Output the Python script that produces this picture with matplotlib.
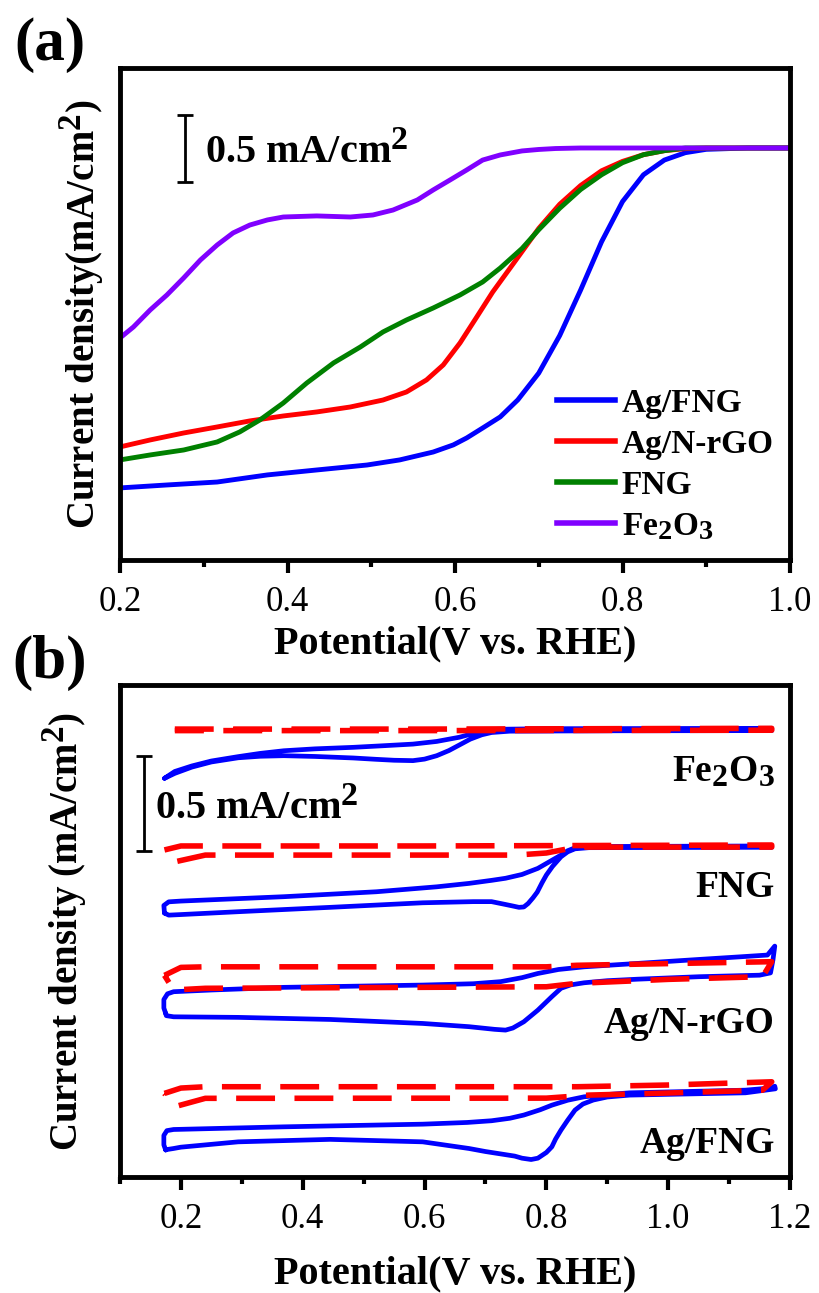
import numpy as np
import matplotlib
matplotlib.use("Agg")
import matplotlib.pyplot as plt
try:
    import matplotlib._mathtext as _mt
    _mt.SHRINK_FACTOR = 0.85
except Exception:
    pass

plt.rcParams['font.family'] = ['Liberation Serif', 'DejaVu Serif']
plt.rcParams['mathtext.fontset'] = 'custom'
plt.rcParams['mathtext.rm'] = 'Liberation Serif:bold'
plt.rcParams['mathtext.bf'] = 'Liberation Serif:bold'
plt.rcParams['mathtext.it'] = 'Liberation Serif:italic:bold'

# ---------------- Panel (a): LSV curves (mA/cm^2, relative) ----------------
lsv_labels = ['Ag/FNG', 'Ag/N-rGO', 'FNG', 'Fe$_2$O$_3$']
lsv_colors = ['#0000FF', '#FF0000', '#008000', '#8000FF']

agfng_x = [0.200, 0.256, 0.316, 0.376, 0.435, 0.495, 0.534, 0.574, 0.598, 0.614, 0.633, 0.654,
           0.675, 0.70, 0.725, 0.75, 0.775, 0.80, 0.825, 0.85, 0.875, 0.90, 0.95, 1.00]
agfng_y = [-2.537, -2.515, -2.493, -2.440, -2.403, -2.366, -2.328, -2.269, -2.216, -2.164, -2.090, -2.007,
           -1.88, -1.68, -1.40, -1.06, -0.70, -0.40, -0.20, -0.09, -0.035, -0.01, 0.0, 0.0]

agnrgo_x = [0.200, 0.236, 0.276, 0.316, 0.355, 0.395, 0.435, 0.475, 0.514, 0.542, 0.566, 0.586,
            0.606, 0.626, 0.645, 0.67, 0.70, 0.725, 0.75, 0.775, 0.80, 0.825, 0.85, 0.875, 0.90, 1.00]
agnrgo_y = [-2.231, -2.179, -2.127, -2.082, -2.037, -2.000, -1.970, -1.933, -1.881, -1.821, -1.731, -1.619,
            -1.455, -1.261, -1.075, -0.86, -0.60, -0.42, -0.28, -0.17, -0.10, -0.05, -0.02, -0.005, 0.0, 0.0]

fng_x = [0.200, 0.236, 0.276, 0.316, 0.343, 0.367, 0.395, 0.423, 0.455, 0.487, 0.514, 0.542,
         0.574, 0.606, 0.633, 0.654, 0.68, 0.70, 0.725, 0.75, 0.775, 0.80, 0.825, 0.85, 0.875, 1.00]
fng_y = [-2.328, -2.291, -2.254, -2.194, -2.119, -2.030, -1.903, -1.754, -1.604, -1.485, -1.373, -1.284,
         -1.194, -1.097, -1.000, -0.896, -0.75, -0.61, -0.45, -0.31, -0.20, -0.11, -0.05, -0.02, 0.0, 0.0]

fe2o3_x = [0.200, 0.216, 0.236, 0.256, 0.276, 0.296, 0.316, 0.335, 0.355, 0.376, 0.395, 0.435,
           0.475, 0.502, 0.526, 0.555, 0.574, 0.594, 0.614, 0.633, 0.654, 0.68, 0.70, 0.72, 0.75, 1.00]
fe2o3_y = [-1.418, -1.336, -1.209, -1.097, -0.970, -0.836, -0.724, -0.634, -0.575, -0.537, -0.515, -0.507,
           -0.515, -0.500, -0.463, -0.388, -0.313, -0.239, -0.164, -0.090, -0.052, -0.022, -0.011, -0.004, 0.0, 0.0]

# ---------------- Panel (b): CV curves, forward + backward sweeps ----------------
# Fe2O3
fe_o2_fx = [0.173, 0.19, 0.218, 0.25, 0.294, 0.33, 0.369, 0.42, 0.483, 0.53, 0.581, 0.62, 0.657,
            0.68, 0.70, 0.72, 0.80, 1.17]
fe_o2_fy = [-0.491, -0.455, -0.426, -0.400, -0.377, -0.360, -0.346, -0.336, -0.328, -0.320, -0.311,
            -0.297, -0.275, -0.255, -0.240, -0.233, -0.230, -0.228]
fe_o2_bx = [1.17, 0.90, 0.74, 0.71, 0.694, 0.675, 0.657, 0.64, 0.62, 0.60, 0.581, 0.55, 0.52, 0.483,
            0.42, 0.369, 0.33, 0.294, 0.25, 0.218, 0.19, 0.173]
fe_o2_by = [-0.240, -0.241, -0.243, -0.250, -0.262, -0.285, -0.316, -0.345, -0.372, -0.390, -0.398,
            -0.396, -0.391, -0.384, -0.376, -0.372, -0.375, -0.383, -0.405, -0.432, -0.465, -0.491]
fe_n2_fx = [0.19, 0.60, 1.17]
fe_n2_fy = [-0.232, -0.232, -0.228]
fe_n2_bx = [1.17, 0.60, 0.19]
fe_n2_by = [-0.238, -0.240, -0.240]

# FNG
fng_o2_fx = [0.173, 0.172, 0.18, 0.20, 0.369, 0.521, 0.62, 0.673, 0.71, 0.733, 0.76, 0.786, 0.805,
             0.824, 0.835, 0.847, 0.87, 1.17]
fng_o2_fy = [-1.200, -1.160, -1.141, -1.137, -1.114, -1.088, -1.062, -1.044, -1.028, -1.017, -0.997,
             -0.965, -0.930, -0.895, -0.872, -0.857, -0.850, -0.847]
fng_o2_bx = [1.17, 0.87, 0.847, 0.835, 0.824, 0.81, 0.80, 0.793, 0.785, 0.778, 0.77, 0.763, 0.755,
             0.745, 0.733, 0.71, 0.68, 0.597, 0.445, 0.294, 0.20, 0.18, 0.173]
fng_o2_by = [-0.854, -0.856, -0.862, -0.878, -0.904, -0.955, -1.000, -1.040, -1.090, -1.120, -1.150,
             -1.168, -1.170, -1.163, -1.155, -1.140, -1.140, -1.146, -1.170, -1.193, -1.208, -1.211, -1.200]
fng_n2_fx = [0.173, 0.20, 0.60, 1.17]
fng_n2_fy = [-0.868, -0.847, -0.847, -0.842]
fng_n2_bx = [1.17, 0.85, 0.80, 0.75, 0.24, 0.188, 0.173]
fng_n2_by = [-0.853, -0.853, -0.884, -0.895, -0.895, -0.932, -0.868]

# Ag/N-rGO
agn_o2_fx = [0.175, 0.172, 0.172, 0.178, 0.188, 0.25, 0.369, 0.597, 0.68, 0.725, 0.76, 0.786, 0.82,
             0.862, 0.95, 1.051, 1.12, 1.163, 1.175]
agn_o2_fy = [-1.728, -1.700, -1.655, -1.625, -1.614, -1.605, -1.591, -1.579, -1.572, -1.561, -1.540,
             -1.518, -1.497, -1.483, -1.465, -1.444, -1.430, -1.421, -1.374]
agn_o2_bx = [1.175, 1.172, 1.168, 1.15, 1.051, 0.95, 0.90, 0.862, 0.84, 0.824, 0.809, 0.786, 0.763,
             0.745, 0.733, 0.715, 0.673, 0.597, 0.445, 0.294, 0.188, 0.176, 0.175]
agn_o2_by = [-1.374, -1.447, -1.515, -1.527, -1.535, -1.548, -1.556, -1.567, -1.578, -1.596, -1.640,
             -1.711, -1.772, -1.805, -1.816, -1.812, -1.798, -1.781, -1.760, -1.749, -1.746, -1.740, -1.728]
agn_n2_fx = [0.173, 0.20, 0.24, 0.80, 0.85, 1.17]
agn_n2_fy = [-1.528, -1.486, -1.483, -1.483, -1.475, -1.456]
agn_n2_bx = [1.17, 1.155, 1.00, 0.85, 0.80, 0.24, 0.188, 0.173]
agn_n2_by = [-1.456, -1.535, -1.549, -1.570, -1.588, -1.596, -1.605, -1.528]

# Ag/FNG
agf_o2_fx = [0.175, 0.172, 0.172, 0.177, 0.188, 0.369, 0.597, 0.67, 0.71, 0.74, 0.763, 0.79, 0.809,
             0.835, 0.862, 0.90, 0.937, 1.127, 1.17, 1.175]
agf_o2_fy = [-2.447, -2.420, -2.370, -2.345, -2.339, -2.325, -2.311, -2.302, -2.293, -2.280, -2.263,
             -2.235, -2.211, -2.185, -2.167, -2.155, -2.146, -2.132, -2.120, -2.111]
agf_o2_bx = [1.175, 1.176, 1.127, 0.937, 0.90, 0.877, 0.86, 0.847, 0.835, 0.824, 0.815, 0.809, 0.80,
             0.786, 0.775, 0.76, 0.748, 0.70, 0.673, 0.597, 0.445, 0.294, 0.20, 0.188, 0.176, 0.175]
agf_o2_by = [-2.111, -2.125, -2.146, -2.158, -2.168, -2.184, -2.205, -2.237, -2.290, -2.342, -2.390,
             -2.430, -2.460, -2.490, -2.497, -2.490, -2.479, -2.455, -2.439, -2.404, -2.391, -2.404,
             -2.432, -2.439, -2.445, -2.447]
agf_n2_fx = [0.173, 0.20, 0.24, 0.85, 1.00, 1.17]
agf_n2_fy = [-2.149, -2.121, -2.114, -2.114, -2.105, -2.088]
agf_n2_bx = [1.17, 1.155, 1.00, 0.87, 0.80, 0.24, 0.19, 0.173]
agf_n2_by = [-2.088, -2.132, -2.147, -2.158, -2.174, -2.175, -2.219, -2.149]

cv_names = ['Fe$_2$O$_3$', 'FNG', 'Ag/N-rGO', 'Ag/FNG']
cv_label_y = [-0.458, -1.068, -1.779, -2.411]

# ---------------- Figure ----------------
W, H = 819, 1293
fig = plt.figure(figsize=(W / 100, H / 100), dpi=100)
ax1 = fig.add_axes([120 / W, 1 - 560 / H, 670 / W, 492 / H])
ax2 = fig.add_axes([120 / W, 1 - 1177 / H, 670 / W, 492 / H])

for xs, ys, lab, col in zip([agfng_x, agnrgo_x, fng_x, fe2o3_x],
                            [agfng_y, agnrgo_y, fng_y, fe2o3_y],
                            lsv_labels, lsv_colors):
    ax1.plot(xs, ys, color=col, lw=3.5, label=lab, solid_joinstyle='round')

ax1.set_xlim(0.2, 1.0)
ax1.set_ylim(-3.075, 0.597)

# scale bar panel a
ax1.errorbar([0.2776], [-0.004], yerr=[[0.25], [0.25]], fmt='none', ecolor='k',
             elinewidth=2, capsize=6, capthick=2)
ax1.text(0.3016, -0.03, '0.5 mA/cm$^2$', fontsize=29, fontweight='bold',
         ha='left', va='center')

leg = ax1.legend(loc='upper left', bbox_to_anchor=(0.652, 0.35), frameon=False,
                 fontsize=24, handlelength=1.75, handletextpad=0.2,
                 labelspacing=0.3, borderpad=0, borderaxespad=0)
for t in leg.get_texts():
    t.set_fontweight('bold')
for l in leg.get_lines():
    l.set_linewidth(4)

# panel b
cv_sets = [
    (fe_o2_fx, fe_o2_fy, fe_o2_bx, fe_o2_by, fe_n2_fx, fe_n2_fy, fe_n2_bx, fe_n2_by),
    (fng_o2_fx, fng_o2_fy, fng_o2_bx, fng_o2_by, fng_n2_fx, fng_n2_fy, fng_n2_bx, fng_n2_by),
    (agn_o2_fx, agn_o2_fy, agn_o2_bx, agn_o2_by, agn_n2_fx, agn_n2_fy, agn_n2_bx, agn_n2_by),
    (agf_o2_fx, agf_o2_fy, agf_o2_bx, agf_o2_by, agf_n2_fx, agf_n2_fy, agf_n2_bx, agf_n2_by),
]
for (ofx, ofy, obx, oby, nfx, nfy, nbx, nby) in cv_sets:
    ax2.plot(list(ofx) + list(obx), list(ofy) + list(oby), color='#0000FF', lw=3.4,
             solid_joinstyle='round', solid_capstyle='round')
for (ofx, ofy, obx, oby, nfx, nfy, nbx, nby) in cv_sets:
    ax2.plot(list(nfx) + list(nbx), list(nfy) + list(nby), color='#FF0000', lw=4,
             dashes=(7, 3.5), dash_capstyle='butt')

for name, yy in zip(cv_names, cv_label_y):
    ax2.text(1.175, yy, name, fontsize=27, fontweight='bold', ha='right', va='center')

ax2.set_xlim(0.1, 1.2)
ax2.set_ylim(-2.589, 0.0)

ax2.errorbar([0.139], [-0.624], yerr=[[0.25], [0.25]], fmt='none', ecolor='k',
             elinewidth=2, capsize=6, capthick=2)
ax2.text(0.157, -0.647, '0.5 mA/cm$^2$', fontsize=29, fontweight='bold',
         ha='left', va='center')

for ax, major, lp in [(ax1, np.arange(0.2, 1.01, 0.2), 4), (ax2, np.arange(0.2, 1.21, 0.2), 14)]:
    for s in ax.spines.values():
        s.set_linewidth(3.5)
    ax.set_yticks([])
    ax.set_xticks(major)
    ax.set_xticklabels(['%.1f' % v for v in major])
    ax.xaxis.set_minor_locator(matplotlib.ticker.MultipleLocator(0.1))
    ax.tick_params(axis='x', which='major', direction='out', length=9, width=3,
                   labelsize=25, pad=10)
    ax.tick_params(axis='x', which='minor', direction='out', length=5, width=3)
    ax.set_xlabel('Potential(V vs. RHE)', fontsize=29, fontweight='bold', labelpad=lp)

fig.text(82 / W, 1 - 314 / H, 'Current density(mA/cm$^2$)', rotation=90,
         fontsize=28, fontweight='bold', ha='center', va='center')
fig.text(65 / W, 1 - 931 / H, 'Current density (mA/cm$^2$)', rotation=90,
         fontsize=28, fontweight='bold', ha='center', va='center')

fig.text(50 / W, 1 - 45 / H, '(a)', fontsize=44, fontweight='bold', ha='center', va='center')
fig.text(50 / W, 1 - 663 / H, '(b)', fontsize=44, fontweight='bold', ha='center', va='center')

fig.savefig('out.png', dpi=100)
